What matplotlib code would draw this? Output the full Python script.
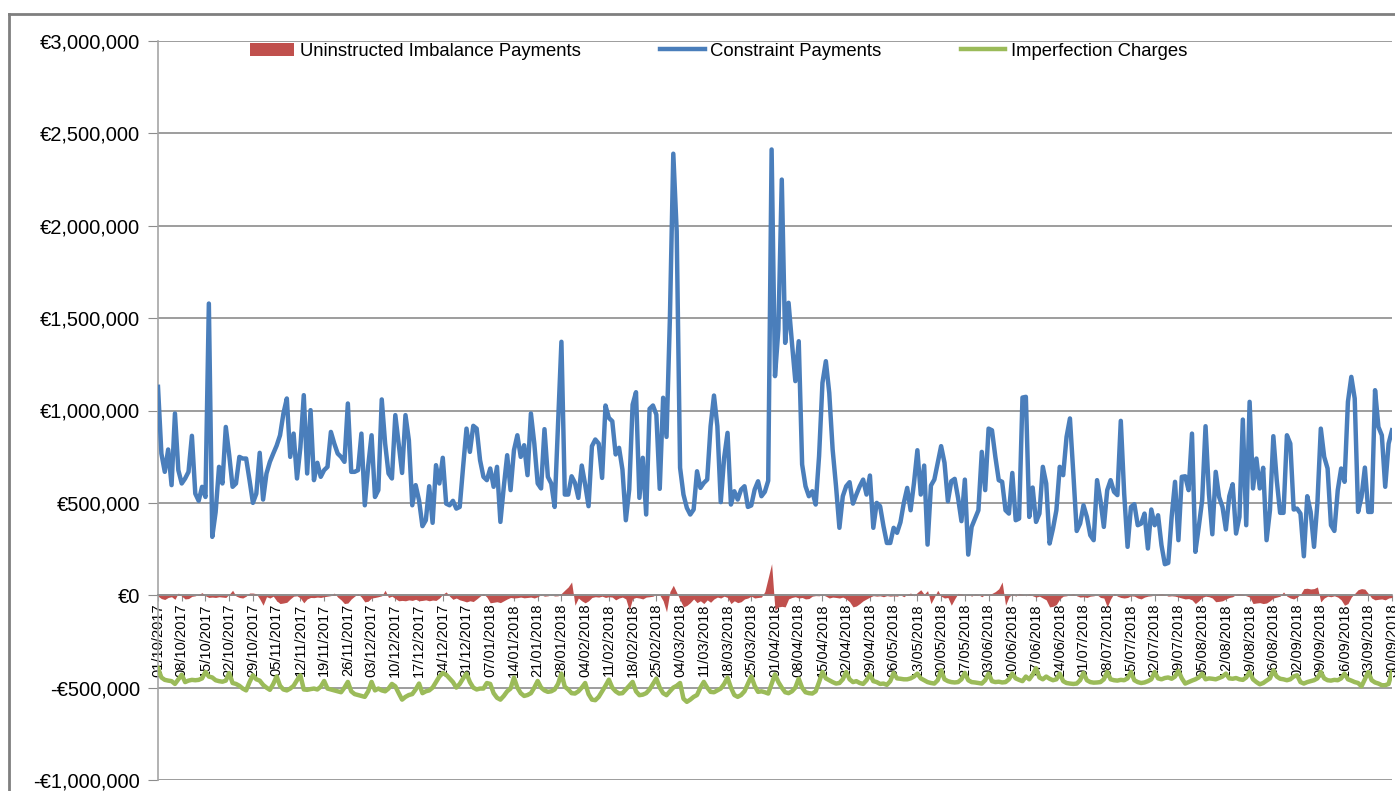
import matplotlib
matplotlib.use("Agg")
import matplotlib.pyplot as plt
import numpy as np
import pandas as pd
from matplotlib.ticker import FuncFormatter, FixedLocator
from matplotlib.lines import Line2D
from matplotlib import font_manager

# ---------------- data (values in thousands of euro) ----------------
start_date = "2017-10-01"
n_days = 365

constraint_k = [
    1128, 767, 668, 789, 596, 984, 677, 605, 632, 668,
    863, 550, 511, 587, 532, 1579, 316, 450, 695, 605,
    911, 760, 587, 605, 749, 740, 740, 623, 500, 550,
    771, 518, 659, 722, 767, 810, 866, 984, 1065, 749,
    875, 632, 800, 1083, 659, 1002, 623, 717, 641, 677,
    695, 884, 821, 767, 749, 722, 1038, 668, 668, 677,
    875, 487, 700, 866, 532, 569, 1060, 821, 659, 632,
    975, 821, 662, 975, 839, 487, 596, 514, 374, 406,
    590, 392, 704, 605, 744, 496, 487, 511, 469, 478,
    695, 902, 776, 917, 902, 731, 641, 623, 686, 587,
    695, 397, 587, 758, 569, 785, 866, 749, 812, 650,
    984, 821, 605, 578, 899, 641, 605, 478, 930, 1372,
    545, 545, 644, 608, 527, 702, 599, 482, 807, 843,
    821, 635, 1027, 960, 942, 762, 798, 680, 406, 572,
    1032, 1099, 527, 744, 437, 1009, 1027, 978, 576, 1069,
    857, 1500, 2390, 1970, 690, 545, 473, 437, 464, 671,
    581, 608, 626, 915, 1081, 915, 504, 744, 879, 491,
    563, 518, 572, 590, 478, 486, 572, 617, 536, 560,
    620, 2413, 1186, 1440, 2250, 1366, 1583, 1366, 1159, 1375,
    708, 590, 536, 563, 491, 753, 1150, 1267, 1096, 789,
    590, 365, 536, 590, 612, 496, 545, 590, 626, 545,
    648, 365, 500, 482, 374, 283, 283, 365, 338, 395,
    500, 581, 460, 608, 785, 545, 702, 274, 594, 626,
    717, 807, 717, 509, 617, 630, 527, 401, 626, 220,
    370, 415, 460, 776, 569, 902, 893, 749, 623, 614,
    460, 442, 662, 406, 415, 1070, 1074, 424, 583, 397,
    442, 695, 605, 280, 361, 460, 695, 650, 857, 957,
    659, 348, 388, 487, 424, 325, 298, 623, 514, 370,
    569, 623, 560, 542, 944, 550, 262, 478, 493, 379,
    388, 442, 253, 464, 379, 433, 271, 168, 175, 424,
    614, 298, 641, 644, 569, 875, 235, 370, 514, 915,
    550, 330, 668, 532, 478, 356, 536, 601, 334, 424,
    951, 379, 1047, 578, 740, 578, 690, 298, 460, 861,
    623, 446, 446, 866, 821, 464, 469, 442, 211, 536,
    451, 262, 500, 902, 749, 686, 379, 348, 569, 686,
    614, 1047, 1182, 1065, 451, 532, 691, 451, 451, 1110,
    911, 866, 587, 821, 893,
]

imbalance_k = [
    -5, -18, -23, -12, -8, -22, 12,
    -5, -20, -18, -6, -3, 5, 14,
    -3, -12, -10, -12, -8, -10, -12,
    5, 27, -4, -12, -15, -5, 12,
    12, 8, -20, -54, -8, -15, -5,
    -30, -45, -42, -38, -20, -5, -3,
    -15, -41, -20, -12, -13, -10, -12,
    -8, -5, -2, 12, -10, -25, -45,
    -42, -20, -5, 8, -10, -36, -32,
    -15, -12, -8, -3, 27, -12, -5,
    -18, -30, -28, -30, -25, -28, -22,
    -30, -28, -25, -30, -26, -28, -15,
    5, 18, -5, -22, -15, -25, -30,
    -36, -30, -34, -20, -5, 8, -10,
    -41, -38, -35, -40, -30, -20, -12,
    -15, -13, -10, -14, -12, -10, -15,
    -8, 3, -5, -3, 2, -4, -3,
    10, 28, 45, 72, -54, -15, -30,
    -41, -30, -12, -8, -10, -5, -12,
    -8, -10, -25, -15, -10, -20, -81,
    -18, -12, -15, -20, -10, -8, -5,
    5, 2, -30, -90, 20, 54, 15,
    -25, -63, -55, -40, -20, -40, -30,
    -45, -25, -38, -20, -10, -15, -5,
    -12, -45, -30, -40, -35, -20, -15,
    -5, -15, -12, -10, 20, 95, 171,
    -81, -63, -60, -63, -20, -12, -8,
    -15, -12, -20, -18, -5, -2, -3,
    3, -5, -15, -10, -12, -15, -10,
    -20, -35, -63, -58, -45, -30, -20,
    -10, -2, -5, -3, -8, -2, -5,
    -3, -5, 2, -8, 5, 12, -3,
    15, 30, 5, 25, -45, -10, 27,
    -5, -15, -12, -54, -20, 10, 8,
    -3, 5, -5, 6, 3, -8, 5,
    3, 10, 20, 35, 72, -54, -10,
    8, -5, 10, 5, -3, 8, -3,
    -10, -5, -15, -25, -63, -60, -50,
    -20, -5, -3, 4, 8, -3, -10,
    -8, -12, -5, -3, 2, -12, -15,
    -63, -20, 10, -5, -12, -15, -12,
    -3, -5, -15, -20, -10, -5, -3,
    2, 5, 8, 3, -5, -3, -5,
    -10, -15, -20, -18, -25, -45, -30,
    -12, -5, -8, -15, -35, -33, -30,
    -20, -12, -8, 5, 8, 5, -3,
    -10, -45, -42, -40, -45, -42, -30,
    -15, -10, -5, 18, -5, -15, -20,
    -10, 5, 36, 38, 34, 36, 45,
    -36, -15, -5, -8, -3, -10, -25,
    -54, -45, -10, 10, 30, 36, 33,
    10, -15, -25, -22, -20, -25, -15,
    -12,
]

imperfection_k = [
    -395, -445, -458, -462, -465, -480, -455,
    -430, -470, -462, -458, -460, -458, -450,
    -415, -440, -445, -460, -465, -468, -462,
    -421, -475, -480, -490, -505, -515, -470,
    -433, -455, -462, -485, -500, -512, -480,
    -439, -490, -510, -515, -505, -490, -460,
    -433, -510, -512, -508, -505, -510, -495,
    -464, -505, -510, -515, -520, -525, -500,
    -469, -520, -535, -540, -545, -550, -520,
    -469, -515, -505, -515, -520, -505, -480,
    -493, -530, -565, -550, -540, -535, -510,
    -478, -530, -520, -515, -500, -470, -440,
    -421, -430, -450, -470, -500, -480, -450,
    -424, -470, -500, -510, -505, -505, -475,
    -480, -530, -555, -565, -545, -520, -505,
    -446, -500, -530, -545, -540, -530, -500,
    -464, -500, -515, -523, -520, -510, -480,
    -424, -495, -510, -530, -532, -520, -500,
    -475, -535, -565, -568, -550, -520, -490,
    -457, -500, -520, -532, -530, -510, -490,
    -469, -520, -541, -538, -530, -510, -480,
    -451, -500, -530, -541, -520, -500, -490,
    -475, -560, -577, -565, -550, -540, -500,
    -469, -500, -523, -525, -515, -505, -480,
    -446, -500, -540, -550, -540, -520, -480,
    -439, -490, -523, -520, -525, -532, -480,
    -428, -470, -500, -525, -530, -520, -500,
    -451, -500, -525, -530, -532, -520, -470,
    -415, -450, -460, -470, -478, -475, -455,
    -415, -455, -470, -465, -475, -480, -460,
    -428, -465, -470, -480, -478, -485, -465,
    -420, -450, -452, -455, -455, -450, -440,
    -424, -450, -460, -470, -475, -478, -460,
    -406, -455, -465, -470, -472, -470, -455,
    -420, -460, -470, -472, -475, -478, -460,
    -424, -465, -470, -468, -472, -470, -455,
    -424, -450, -458, -465, -440, -455, -430,
    -395, -445, -455, -440, -452, -460, -455,
    -424, -465, -475, -478, -480, -478, -460,
    -420, -460, -470, -473, -472, -470, -455,
    -415, -455, -460, -462, -458, -460, -450,
    -415, -460, -470, -475, -472, -465, -455,
    -415, -450, -455, -448, -445, -452, -440,
    -408, -450, -478, -470, -462, -455, -445,
    -424, -455, -450, -452, -455, -448, -440,
    -424, -450, -452, -448, -455, -458, -445,
    -415, -455, -470, -482, -475, -462, -450,
    -406, -440, -452, -455, -460, -455, -440,
    -433, -470, -478, -470, -465, -460, -450,
    -415, -450, -460, -462, -458, -460, -450,
    -424, -455, -462, -470, -475, -493, -455,
    -415, -460, -472, -478, -487, -487, -480,
    -415,
]

series_names = ["Uninstructed Imbalance Payments", "Constraint Payments", "Imperfection Charges"]
y_ticks = [-1000000, -500000, 0, 500000, 1000000, 1500000, 2000000, 2500000, 3000000]

dates = pd.date_range(start_date, periods=n_days, freq="D")
date_labels = [d.strftime("%d/%m/%Y") for d in dates]
x = np.arange(n_days)
constraint = np.array(constraint_k) * 1000.0
imbalance = np.array(imbalance_k) * 1000.0
imperfection = np.array(imperfection_k) * 1000.0

# ---------------- figure ----------------
W, H = 1395, 791
fig = plt.figure(figsize=(W / 100, H / 100), dpi=100)
fig.patch.set_facecolor("white")

left_px, right_px, top_px, bottom_px = 158, 1392, 41, 780
ax = fig.add_axes([left_px / W, 1 - bottom_px / H,
                   (right_px - left_px) / W, (bottom_px - top_px) / H])

red = "#C0504D"
blue = "#4A7EBB"
green = "#9BBB59"
grid_c = "#8C8C8C"
fam = ["Liberation Sans", "DejaVu Sans"]

installed = {f.name for f in font_manager.fontManager.ttflist}
if "Liberation Sans Narrow" in installed:
    date_fam = ["Liberation Sans Narrow", "DejaVu Sans"]
    date_size = 12.5
else:
    date_fam = fam
    date_size = 10.5

# spines first (set_position resets tick properties)
for s in ["top", "right"]:
    ax.spines[s].set_visible(False)
ax.spines["bottom"].set_position(("data", 0))
ax.spines["bottom"].set_color(grid_c)
ax.spines["bottom"].set_linewidth(1.2)
ax.spines["left"].set_color("#A6A6A6")
ax.spines["left"].set_linewidth(1.2)

ax.fill_between(x, 0, imbalance, color=red, linewidth=0, zorder=2,
                label=series_names[0])
ax.plot(x, constraint, color=blue, linewidth=3.2, zorder=4,
        solid_joinstyle="round", label=series_names[1])
ax.plot(x, imperfection, color=green, linewidth=3.2, zorder=4,
        solid_joinstyle="round", label=series_names[2])

ax.set_xlim(0, n_days - 1)
ax.set_ylim(-1000000, 3000000)

ax.yaxis.set_major_locator(FixedLocator(y_ticks))

def euro(v, pos):
    v = int(round(v))
    if v < 0:
        return "-\u20ac{:,}".format(-v)
    return "\u20ac{:,}".format(v)

ax.yaxis.set_major_formatter(FuncFormatter(euro))
ax.grid(axis="y", color=grid_c, linewidth=1.2, zorder=0)
ax.set_axisbelow(True)

tick_pos = x[::7]
ax.set_xticks(tick_pos)
ax.set_xticklabels([date_labels[i] for i in tick_pos])
ax.tick_params(axis="x", direction="out", length=4, color=grid_c, pad=2,
               labelrotation=90, labelsize=date_size)
for lab in ax.get_xticklabels():
    lab.set_family(date_fam)
    lab.set_va("top")
    lab.set_ha("center")

ax.tick_params(axis="y", direction="out", length=7, color=grid_c, pad=6,
               labelsize=14.5)
for lab in ax.get_yticklabels():
    lab.set_family(fam)

leg = fig.legend(loc="center left", bbox_to_anchor=(250 / W, 1 - 51 / H),
                 bbox_transform=fig.transFigure, ncol=3, frameon=False,
                 borderpad=0, borderaxespad=0, handlelength=2.4,
                 handleheight=0.7, handletextpad=0.3, columnspacing=4.3,
                 prop={"family": fam, "size": 13.3})

# outer chart border
fig.add_artist(Line2D([9 / W, 1.0], [1 - 14 / H, 1 - 14 / H], color="#7F7F7F",
                      linewidth=2, transform=fig.transFigure))
fig.add_artist(Line2D([9 / W, 9 / W], [0, 1 - 14 / H], color="#7F7F7F",
                      linewidth=2, transform=fig.transFigure))

fig.savefig("out.png", dpi=100, facecolor="white")
